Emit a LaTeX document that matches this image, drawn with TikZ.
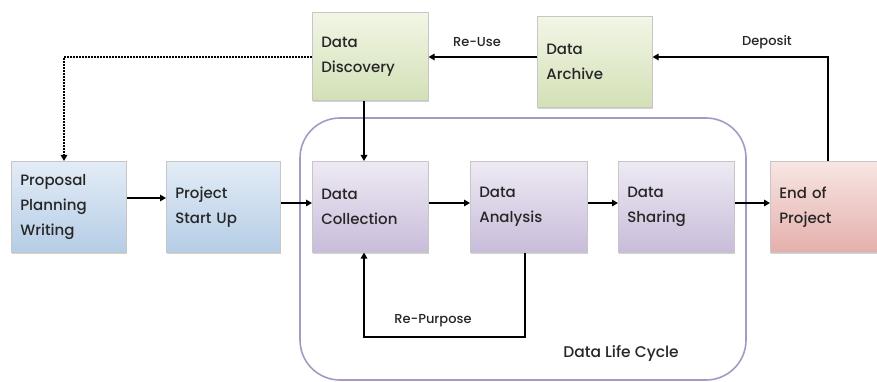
\documentclass[tikz,border=0pt]{standalone}
\usepackage{fontspec}
\setmainfont{Poppins Medium}
\usetikzlibrary{arrows.meta,shadows}
\definecolor{bluetop}{HTML}{E3ECF6}
\definecolor{bluebot}{HTML}{B5CDE6}
\definecolor{purtop}{HTML}{EEEAF3}
\definecolor{purbot}{HTML}{C8BCDA}
\definecolor{grntop}{HTML}{F2F6E6}
\definecolor{grnbot}{HTML}{D3E0B6}
\definecolor{redtop}{HTML}{F8E6E4}
\definecolor{redbot}{HTML}{E4AFAB}
\definecolor{cycle}{HTML}{A898C4}
\tikzset{
  box/.style={rectangle, draw=gray!45, line width=0.6pt, anchor=north west,
    inner xsep=9pt, inner ysep=0pt, align=left,
    font=\fontsize{15}{25}\selectfont, text=black!85,
    drop shadow={shadow xshift=1pt, shadow yshift=-2pt, opacity=0.35, fill=gray}},
  bluebox/.style={box, top color=bluetop, bottom color=bluebot},
  purbox/.style={box, top color=purtop, bottom color=purbot},
  grnbox/.style={box, top color=grntop, bottom color=grnbot},
  redbox/.style={box, top color=redtop, bottom color=redbot},
  conn/.style={line width=1.9pt, -{Triangle[length=6pt,width=6.5pt]}},
  lbl/.style={font=\fontsize{13}{15}\selectfont, text=black!85},
}
\begin{document}
\begin{tikzpicture}[x=1pt,y=-1pt]
\useasboundingbox (0,0) rectangle (877,382);
\fill[white] (0,0) rectangle (877,382);
% life cycle frame
\draw[cycle, line width=1.6pt, rounded corners=40pt] (300,118) rectangle (746,380);
% boxes
\node[bluebox, minimum width=115pt, minimum height=91pt, text width=97pt] (prop) at (11,161) {Proposal\\Planning\\Writing};
\node[bluebox, minimum width=114pt, minimum height=91pt, text width=96pt] (start) at (166,161) {Project\\Start Up};
\node[purbox, minimum width=116pt, minimum height=91pt, text width=98pt] (coll) at (312,161) {Data\\Collection};
\node[purbox, minimum width=117pt, minimum height=91pt, text width=99pt] (anal) at (470,161) {Data\\Analysis};
\node[purbox, minimum width=116pt, minimum height=91pt, text width=98pt] (shar) at (618,161) {Data\\Sharing};
\node[redbox, minimum width=112pt, minimum height=91pt, text width=94pt] (end) at (770,161) {End of\\Project};
\node[grnbox, minimum width=116pt, minimum height=88pt, text width=98pt] (disc) at (312,12) {Data\\Discovery};
\node[grnbox, minimum width=115pt, minimum height=91pt, text width=97pt] (arch) at (537,16) {Data\\Archive};
% coordinates
\coordinate (dotc) at (64,57);
\coordinate (depc) at (828,57);
\coordinate (rpa) at (525,337);
\coordinate (rpb) at (364,337);
% connectors
\draw[conn] (prop.east |- 0,198) -- (start.west |- 0,198);
\draw[conn] (start.east |- 0,203) -- (coll.west |- 0,203);
\draw[conn] (coll.east |- 0,203) -- (anal.west |- 0,203);
\draw[conn] (anal.east |- 0,203) -- (shar.west |- 0,203);
\draw[conn] (shar.east |- 0,203) -- (end.west |- 0,203);
\draw[conn] (disc.south -| 364,0) -- (coll.north -| 364,0);
\draw[conn] (arch.west |- 0,57) -- (disc.east |- 0,57);
\draw[conn] (end.north -| depc) -- (depc) -- (arch.east |- depc);
\draw[conn] (anal.south -| rpa) -- (rpa) -- (rpb) -- (coll.south -| rpb);
\draw[line width=1.9pt, dash pattern=on 1.6pt off 1.4pt, -{Triangle[length=6pt,width=6.5pt]}] (disc.west |- dotc) -- (dotc) -- (prop.north -| dotc);
% labels
\node[lbl] (reuse) at (477,42) {Re-Use};
\node[lbl] (depo) at (767,42) {Deposit};
\node[lbl] (repu) at (433,321) {Re-Purpose};
\node[lbl, font=\fontsize{15.5}{18}\selectfont] (dlc) at (621,354) {Data Life Cycle};
\end{tikzpicture}
\end{document}
